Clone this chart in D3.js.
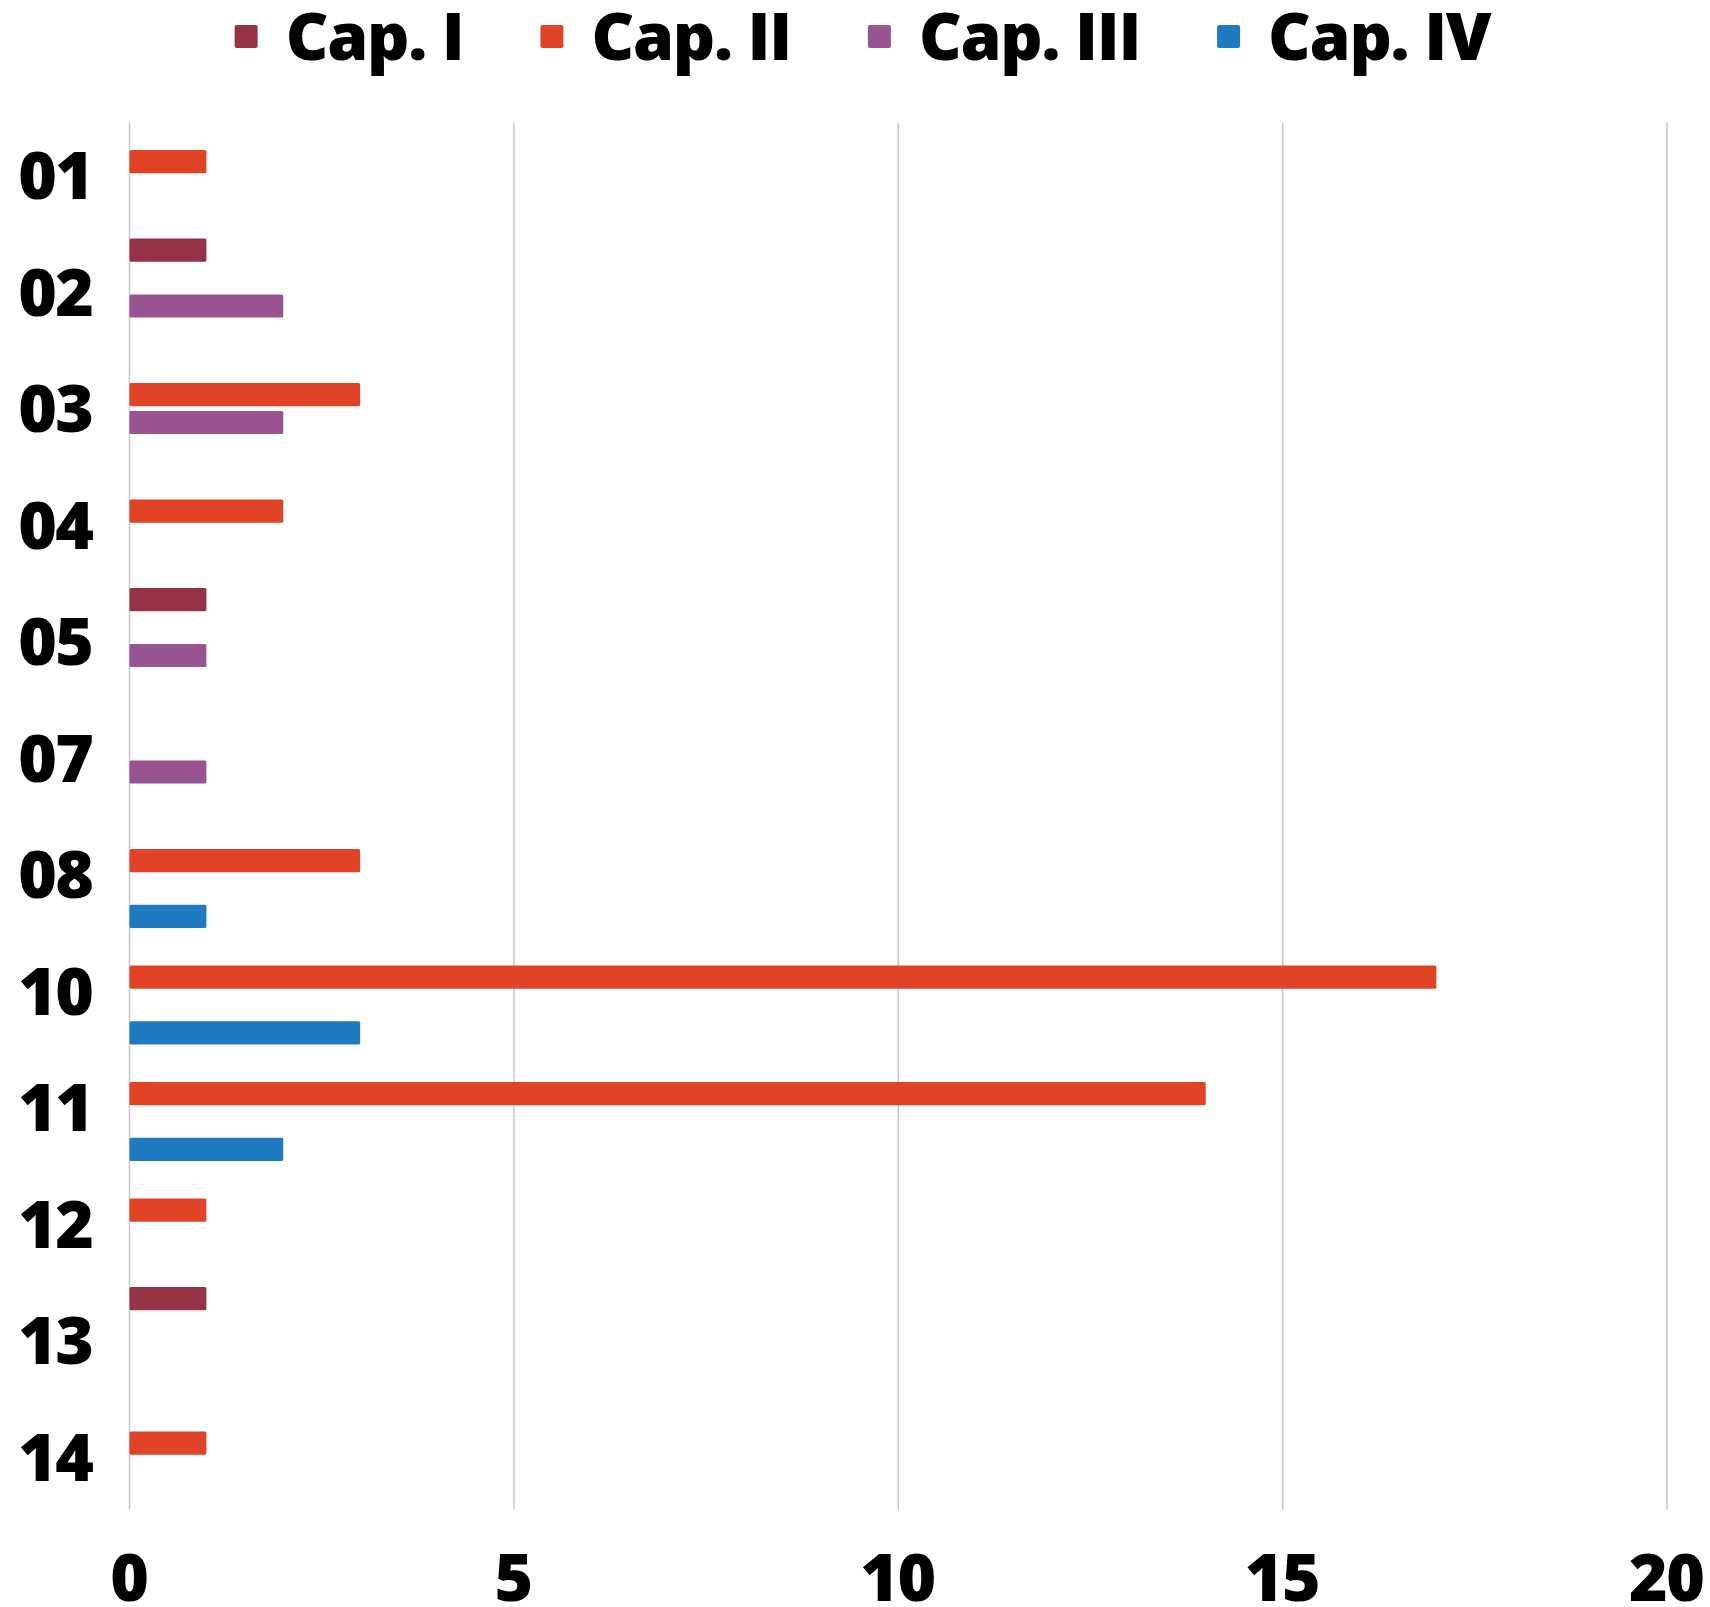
<!DOCTYPE html>
<html>
<head>
<meta charset="utf-8">
<script src="https://cdn.jsdelivr.net/npm/d3@7"></script>
<style>
  body { margin: 0; background: #fff; }
  text { font-family: "Open Sans", sans-serif; font-weight: 800; fill: #000; }
</style>
</head>
<body>
<div id="chart"></div>
<script>
// data
const categories = ["01", "02", "03", "04", "05", "07", "08", "10", "11", "12", "13", "14"];
const seriesNames = ["Cap. I", "Cap. II", "Cap. III", "Cap. IV"];
const seriesColors = ["#953345", "#E04325", "#975490", "#1F7BC0"];
// one array per series, same order as categories (0 = no bar)
const capI   = [0, 1, 0, 0, 1, 0, 0, 0, 0, 0, 1, 0];
const capII  = [1, 0, 3, 2, 0, 0, 3, 17, 14, 1, 0, 1];
const capIII = [0, 2, 2, 0, 1, 1, 0, 0, 0, 0, 0, 0];
const capIV  = [0, 0, 0, 0, 0, 0, 1, 3, 2, 0, 0, 0];
const xTicks = [0, 5, 10, 15, 20];

const width = 1710, height = 1607;
const margin = { top: 117.3, bottom: 91.7, left: 129.5, right: 43 };

const seriesValues = [capI, capII, capIII, capIV];
const rows = [];
categories.forEach((c, i) => {
  seriesNames.forEach((s, j) => {
    if (seriesValues[j][i] > 0) rows.push({ cat: c, series: s, value: seriesValues[j][i] });
  });
});

const svg = d3.select("#chart").append("svg")
  .attr("width", width)
  .attr("height", height);

const x = d3.scaleLinear()
  .domain([0, 20])
  .range([margin.left, width - margin.right]);

const y = d3.scaleBand()
  .domain(categories)
  .range([margin.top, height - margin.bottom]);

const ySub = d3.scaleBand()
  .domain(seriesNames)
  .range([0, y.bandwidth()])
  .padding(0.17);

const color = d3.scaleOrdinal().domain(seriesNames).range(seriesColors);

// vertical grid lines (gridline at 0 acts as the axis)
svg.append("g")
  .selectAll("line")
  .data(xTicks)
  .join("line")
  .attr("x1", d => x(d)).attr("x2", d => x(d))
  .attr("y1", y.range()[0] + 5.5)
  .attr("y2", y.range()[1] - 5.5)
  .attr("stroke", "#c8c8c8")
  .attr("stroke-width", 1.5);

// bars
svg.append("g")
  .selectAll("rect")
  .data(rows)
  .join("rect")
  .attr("x", x(0))
  .attr("y", d => y(d.cat) + ySub(d.series))
  .attr("width", d => x(d.value) - x(0))
  .attr("height", ySub.bandwidth())
  .attr("rx", 1.5)
  .attr("fill", d => color(d.series));

// y labels
svg.append("g")
  .selectAll("text")
  .data(categories)
  .join("text")
  .attr("x", 92.5)
  .attr("y", d => y(d) + y.bandwidth() / 2)
  .attr("dy", "0.36em")
  .attr("text-anchor", "end")
  .style("font-size", "66px")
  .style("letter-spacing", "-1.5px")
  .text(d => d);

// x labels
svg.append("g")
  .selectAll("text")
  .data(xTicks)
  .join("text")
  .attr("x", d => x(d) - 0.75)
  .attr("y", 1601)
  .attr("text-anchor", "middle")
  .style("font-size", "66px")
  .style("letter-spacing", "-1.5px")
  .text(d => d);

// legend
const legend = svg.append("g");
const items = legend.selectAll("g")
  .data(seriesNames)
  .join("g");
items.append("rect")
  .attr("width", 23).attr("height", 23)
  .attr("y", 25).attr("rx", 2)
  .attr("fill", d => color(d));
items.append("text")
  .attr("x", 51)
  .attr("y", 59.5)
  .style("font-size", "66px")
  .style("letter-spacing", "-1.3px")
  .text(d => d);

let offset = 0;
items.each(function () {
  const w = 51 + d3.select(this).select("text").node().getComputedTextLength();
  d3.select(this).attr("transform", `translate(${offset},0)`);
  offset += w + 77;
});
const total = offset - 77;
legend.attr("transform", `translate(${862.5 - total / 2},0)`);
</script>
</body>
</html>
